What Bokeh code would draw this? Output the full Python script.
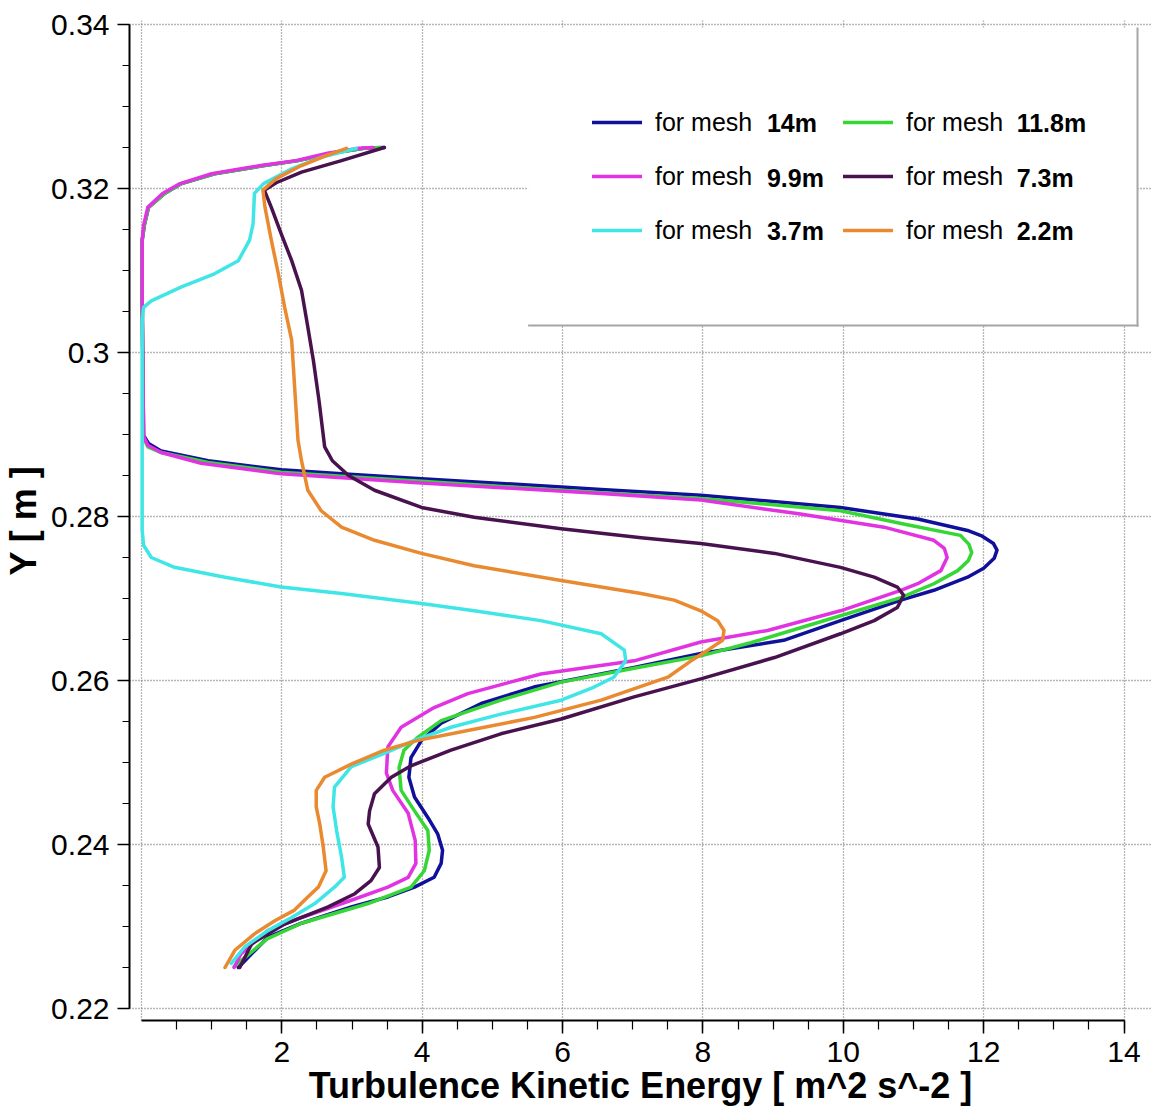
from bokeh.plotting import figure
from bokeh.models import (Range1d, FixedTicker, Legend, LegendItem, Label,
                          BoxAnnotation)
from bokeh.embed import file_html
from bokeh.resources import INLINE

# ---------------- data ----------------
mesh_names = ["14m", "11.8m", "9.9m", "7.3m", "3.7m", "2.2m"]
mesh_colors = ["#10109a", "#36d636", "#e233e2", "#48124f", "#40e6e6", "#e98a30"]

k_14 = [1.38, 1.80, 2.28, 2.99, 3.51, 3.89, 4.17, 4.27, 4.29, 4.22, 4.08, 3.89, 3.81, 3.84, 3.99,
        4.27, 4.84, 5.59, 6.07, 7.02, 7.97, 9.15, 9.96, 10.82, 11.29, 11.77, 12.00, 12.15, 12.19,
        12.14, 11.98, 11.77, 11.06, 9.96, 7.97, 6.55, 5.98, 3.99, 2.85, 1.99, 0.95, 0.28, 0.10,
        0.03, 0.01, 0.01, 0.04, 0.10, 0.33, 0.57, 1.04, 1.75, 2.23, 2.70, 3.17, 3.46]
y_14 = [0.2250, 0.2287, 0.2304, 0.2324, 0.2336, 0.2348, 0.2360, 0.2377, 0.2393, 0.2413, 0.2433,
        0.2458, 0.2482, 0.2506, 0.2527, 0.2548, 0.2572, 0.2592, 0.2600, 0.2616, 0.2633, 0.2649,
        0.2673, 0.2698, 0.2710, 0.2726, 0.2737, 0.2749, 0.2759, 0.2767, 0.2776, 0.2783, 0.2797,
        0.2811, 0.2826, 0.2833, 0.2836, 0.2846, 0.2852, 0.2857, 0.2868, 0.2880, 0.2889, 0.2899,
        0.3063, 0.3137, 0.3155, 0.3177, 0.3194, 0.3206, 0.3218, 0.3228, 0.3234, 0.3243, 0.3249,
        0.3250]

k_118 = [1.32, 1.79, 2.28, 3.23, 3.84, 4.03, 4.10, 4.08, 3.89, 3.70, 3.67, 3.74, 3.94, 4.27, 5.12,
         5.98, 7.02, 7.97, 8.68, 9.96, 10.82, 11.29, 11.63, 11.78, 11.83, 11.79, 11.67, 10.91, 9.96,
         7.97, 6.55, 3.99, 2.85, 1.99, 0.95, 0.28, 0.09, 0.03, 0.01, 0.01, 0.04, 0.10, 0.33, 0.57,
         1.04, 1.75, 2.23, 2.70, 3.17, 3.40]
y_118 = [0.2251, 0.2285, 0.2304, 0.2328, 0.2348, 0.2368, 0.2393, 0.2417, 0.2441, 0.2466, 0.2494,
         0.2515, 0.2531, 0.2551, 0.2576, 0.2598, 0.2615, 0.2630, 0.2646, 0.2679, 0.2701, 0.2718,
         0.2734, 0.2746, 0.2756, 0.2766, 0.2777, 0.2790, 0.2807, 0.2822, 0.2829, 0.2843, 0.2849,
         0.2854, 0.2866, 0.2878, 0.2885, 0.2896, 0.3063, 0.3137, 0.3155, 0.3177, 0.3194, 0.3206,
         0.3218, 0.3228, 0.3234, 0.3243, 0.3249, 0.3250]

k_99 = [1.32, 1.42, 1.80, 2.28, 2.99, 3.51, 3.80, 3.91, 3.90, 3.80, 3.58, 3.49, 3.51, 3.70, 4.17,
        4.65, 5.69, 7.02, 7.97, 8.92, 9.96, 10.82, 11.06, 11.39, 11.48, 11.44, 11.29, 10.58, 9.39,
        7.97, 6.55, 3.99, 1.99, 0.85, 0.28, 0.09, 0.03, 0.01, 0.01, 0.03, 0.09, 0.30, 0.55, 1.00,
        1.70, 2.20, 2.65, 3.10, 3.30]
y_99 = [0.2250, 0.2267, 0.2295, 0.2311, 0.2332, 0.2348, 0.2360, 0.2377, 0.2405, 0.2438, 0.2466,
        0.2487, 0.2519, 0.2543, 0.2567, 0.2584, 0.2608, 0.2624, 0.2647, 0.2661, 0.2685, 0.2710,
        0.2718, 0.2734, 0.2750, 0.2761, 0.2771, 0.2787, 0.2803, 0.2820, 0.2828, 0.2841, 0.2852,
        0.2865, 0.2878, 0.2887, 0.2898, 0.3063, 0.3137, 0.3155, 0.3177, 0.3194, 0.3206, 0.3218,
        0.3228, 0.3234, 0.3243, 0.3249, 0.3250]

k_73 = [1.40, 1.57, 2.04, 2.66, 3.04, 3.27, 3.39, 3.37, 3.23, 3.25, 3.32, 3.56, 3.84, 4.41, 5.12,
        5.98, 7.02, 7.97, 9.02, 9.96, 10.44, 10.77, 10.86, 10.77, 10.44, 9.96, 9.02, 7.97, 7.12,
        5.98, 4.74, 3.99, 3.32, 2.95, 2.72, 2.61, 2.53, 2.45, 2.37, 2.28, 2.14, 1.99, 1.85, 1.75,
        1.92, 2.28, 2.85, 3.46]
y_73 = [0.2250, 0.2279, 0.2303, 0.2324, 0.2340, 0.2356, 0.2372, 0.2397, 0.2425, 0.2441, 0.2462,
        0.2482, 0.2496, 0.2515, 0.2535, 0.2553, 0.2580, 0.2602, 0.2628, 0.2657, 0.2673, 0.2689,
        0.2704, 0.2714, 0.2726, 0.2738, 0.2755, 0.2767, 0.2774, 0.2785, 0.2799, 0.2811, 0.2832,
        0.2850, 0.2868, 0.2885, 0.2941, 0.2990, 0.3031, 0.3076, 0.3112, 0.3145, 0.3177, 0.3198,
        0.3207, 0.3220, 0.3234, 0.3250]

k_37 = [1.28, 1.47, 1.80, 2.14, 2.47, 2.75, 2.89, 2.85, 2.78, 2.73, 2.75, 2.99, 3.46, 3.89, 4.41,
        5.12, 5.98, 6.45, 6.73, 6.90, 6.88, 6.55, 5.69, 5.22, 4.74, 3.99, 2.85, 1.99, 1.19, 0.47,
        0.14, 0.03, 0.01, 0.01, 0.03, 0.14, 0.57, 1.04, 1.38, 1.54, 1.59, 1.61, 1.74, 2.14, 2.56,
        3.06]
y_37 = [0.2255, 0.2275, 0.2295, 0.2311, 0.2328, 0.2348, 0.2360, 0.2385, 0.2417, 0.2446, 0.2470,
        0.2495, 0.2511, 0.2527, 0.2543, 0.2559, 0.2576, 0.2592, 0.2604, 0.2624, 0.2637, 0.2657,
        0.2673, 0.2679, 0.2685, 0.2694, 0.2706, 0.2714, 0.2726, 0.2738, 0.2750, 0.2765, 0.2783,
        0.3039, 0.3055, 0.3063, 0.3080, 0.3096, 0.3112, 0.3137, 0.3157, 0.3194, 0.3206, 0.3224,
        0.3238, 0.3249]

k_22 = [1.19, 1.33, 1.61, 1.90, 2.18, 2.37, 2.52, 2.63, 2.59, 2.54, 2.49, 2.49, 2.61, 2.99, 3.46,
        3.94, 4.65, 5.60, 6.55, 7.50, 7.83, 8.07, 8.28, 8.30, 8.21, 7.97, 7.59, 7.12, 5.98, 4.74,
        3.99, 3.32, 2.85, 2.56, 2.37, 2.28, 2.23, 2.14, 2.04, 1.95, 1.85, 1.76, 1.73, 1.92, 2.28,
        2.63, 2.92]
y_22 = [0.2250, 0.2271, 0.2291, 0.2307, 0.2320, 0.2336, 0.2348, 0.2368, 0.2397, 0.2425, 0.2446,
        0.2466, 0.2482, 0.2498, 0.2515, 0.2527, 0.2539, 0.2555, 0.2576, 0.2604, 0.2624, 0.2637,
        0.2649, 0.2661, 0.2673, 0.2685, 0.2698, 0.2706, 0.2722, 0.2740, 0.2755, 0.2771, 0.2787,
        0.2807, 0.2832, 0.2868, 0.2893, 0.3015, 0.3055, 0.3096, 0.3137, 0.3177, 0.3198, 0.3212,
        0.3228, 0.3240, 0.3249]

x_ticks = [2, 4, 6, 8, 10, 12, 14]
x_tick_labels = ["2", "4", "6", "8", "10", "12", "14"]
y_ticks = [0.22, 0.24, 0.26, 0.28, 0.30, 0.32, 0.34]
y_tick_labels = ["0.22", "0.24", "0.26", "0.28", "0.3", "0.32", "0.34"]

x_title = "Turbulence Kinetic Energy [ m^2 s^-2 ]"
y_title = "Y [ m ]"
legend_prefix = "for mesh"

# ---------------- layout helpers (pixel -> data for annotations) ----------------
X0_PX, X_PER_UNIT = 140.0, 70.25
Y0_PX, Y_PER_UNIT = 24.0, 8200.0


def xk(px):
    return (px - X0_PX) / X_PER_UNIT


def yv(py):
    return 0.34 - (py - Y0_PX) / Y_PER_UNIT


W, H = 1151, 1116
LEFT, TOP, BOTTOM = 128, 20, 96

p = figure(width=W, height=H, output_backend="svg", toolbar_location=None,
           x_range=Range1d(xk(LEFT), xk(W)), y_range=Range1d(yv(H - BOTTOM), yv(TOP)),
           min_border_left=LEFT, min_border_right=0, min_border_top=TOP,
           min_border_bottom=BOTTOM)
p.outline_line_color = None
p.background_fill_color = "white"

TICK_FONT = "Liberation Sans"

# x axis
p.xaxis.ticker = FixedTicker(ticks=x_ticks, minor_ticks=[0.5 * i for i in range(1, 29)])
p.xaxis.major_label_overrides = dict(zip(x_ticks, x_tick_labels))
p.xaxis.bounds = (0, 14)
p.xaxis.axis_label = x_title
p.xaxis.axis_label_text_font = "Liberation Sans"
p.xaxis.axis_label_text_font_style = "bold"
p.xaxis.axis_label_text_font_size = "36px"
p.xaxis.axis_label_standoff = 0
p.xaxis.major_label_text_font = TICK_FONT
p.xaxis.major_label_text_font_size = "30px"
p.xaxis.major_label_standoff = 8
p.xaxis.major_tick_out = 13
p.xaxis.major_tick_in = 0
p.xaxis.minor_tick_out = 9
p.xaxis.minor_tick_in = 0

# y axis
p.yaxis.ticker = FixedTicker(ticks=y_ticks, minor_ticks=[round(0.22 + 0.005 * i, 3) for i in range(25)])
p.yaxis.major_label_overrides = dict(zip(y_ticks, y_tick_labels))
p.yaxis.bounds = (0.22, 0.34)
p.yaxis.axis_label = y_title
p.yaxis.axis_label_text_font = "Liberation Sans"
p.yaxis.axis_label_text_font_style = "bold"
p.yaxis.axis_label_text_font_size = "36px"
p.yaxis.axis_label_standoff = 4
p.yaxis.major_label_text_font = TICK_FONT
p.yaxis.major_label_text_font_size = "30px"
p.yaxis.major_label_standoff = 8
p.yaxis.major_tick_out = 12
p.yaxis.major_tick_in = 0
p.yaxis.minor_tick_out = 7
p.yaxis.minor_tick_in = 0

for ax in (p.xaxis, p.yaxis):
    ax.axis_line_color = "black"
    ax.axis_line_width = 2
    ax.major_tick_line_color = "black"
    ax.major_tick_line_width = 1.5
    ax.minor_tick_line_color = "black"
    ax.minor_tick_line_width = 1.2
    ax.major_label_text_color = "black"
    ax.axis_label_text_color = "black"

# grids
p.xgrid.ticker = FixedTicker(ticks=[0] + x_ticks)
p.ygrid.ticker = FixedTicker(ticks=y_ticks)
for g in (p.xgrid, p.ygrid):
    g.grid_line_color = "#6f6f6f"
    g.grid_line_dash = "1 2"
    g.grid_line_width = 1.3

# curves
series = [(k_14, y_14), (k_118, y_118), (k_99, y_99), (k_73, y_73), (k_37, y_37), (k_22, y_22)]
renderers = []
for (kk, yy), c in zip(series, mesh_colors):
    r = p.line(x=kk, y=yy, line_color=c, line_width=3.5, line_join="round", line_cap="round")
    renderers.append(r)
r14, r118, r99, r73, r37, r22 = renderers

# legend background box (white) with grey right / bottom edges
p.add_layout(BoxAnnotation(left=xk(527), right=xk(1137), top=yv(27), bottom=yv(325),
                           fill_color="white", fill_alpha=1.0, line_alpha=0))
p.add_layout(BoxAnnotation(left=xk(527), right=xk(1138), top=yv(324), bottom=yv(326),
                           fill_color="#a6a6a6", fill_alpha=1.0, line_alpha=0))
p.add_layout(BoxAnnotation(left=xk(1136), right=xk(1138), top=yv(27), bottom=yv(326),
                           fill_color="#a6a6a6", fill_alpha=1.0, line_alpha=0))

common = dict(orientation="vertical", padding=0, margin=0, spacing=24,
              glyph_width=50, glyph_height=30, label_height=30, label_standoff=13,
              background_fill_alpha=0, border_line_alpha=0,
              label_text_font="Liberation Sans", label_text_font_size="25px",
              label_text_color="black")
leg1 = Legend(items=[LegendItem(label=legend_prefix, renderers=[r]) for r in (r14, r99, r37)],
              location=(591 - LEFT, (H - BOTTOM) - 245), **common)
leg2 = Legend(items=[LegendItem(label=legend_prefix, renderers=[r]) for r in (r118, r73, r22)],
              location=(842 - LEFT, (H - BOTTOM) - 245), **common)
p.add_layout(leg1)
p.add_layout(leg2)

row_py = [122, 177, 230]
col_px = [766, 1016]
order = [[0, 2, 4], [1, 3, 5]]
for ci, idxs in enumerate(order):
    for ri, si in enumerate(idxs):
        p.add_layout(Label(x=xk(col_px[ci]), y=yv(row_py[ri]), text=mesh_names[si],
                           text_font="Liberation Sans", text_font_style="bold",
                           text_font_size="25px", text_baseline="middle", text_color="black"))

open("out.html", "w").write(file_html(p, INLINE))
